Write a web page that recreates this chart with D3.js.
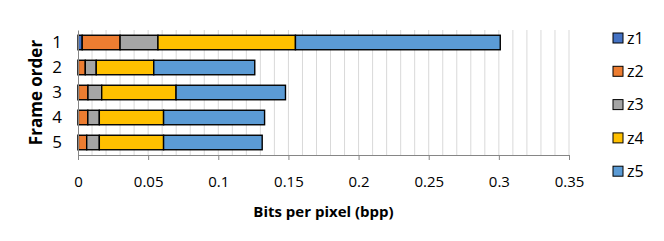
<!DOCTYPE html>
<html>
<head>
<meta charset="utf-8">
<script src="https://cdn.jsdelivr.net/npm/d3@7"></script>
<style>
  body { margin: 0; background: #fff; }
  text { font-family: "Open Sans", "Noto Sans", sans-serif; }
</style>
</head>
<body>
<div id="chart"></div>
<script>
// Frame order categories
const frames = ["1", "2", "3", "4", "5"];
const seriesNames = ["z1", "z2", "z3", "z4", "z5"];

// bits per pixel, one array per series (frame 1..5)
const z1 = [0.003, 0.0003, 0.0003, 0.0003, 0.0003];
const z2 = [0.027, 0.0049, 0.0068, 0.0067, 0.0059];
const z3 = [0.027, 0.0078, 0.0098, 0.0082, 0.009];
const z4 = [0.098, 0.041, 0.053, 0.0458, 0.0458];
const z5 = [0.146, 0.072, 0.078, 0.072, 0.0703];

const xTicks = [0, 0.05, 0.1, 0.15, 0.2, 0.25, 0.3, 0.35];
const colors = ["#4472C4", "#ED7D31", "#A5A5A5", "#FFC000", "#5B9BD5"];

const w = 664, h = 241;
const margin = { left: 78, right: 95, top: 30, bottom: 86 };

// build table rows for the stack
const table = frames.map((f, i) => ({
  frame: f, z1: z1[i], z2: z2[i], z3: z3[i], z4: z4[i], z5: z5[i]
}));
const stacked = d3.stack().keys(seriesNames)(table);

const svg = d3.select("#chart").append("svg")
  .attr("width", w).attr("height", h);

const x = d3.scaleLinear().domain([0, 0.35])
  .range([margin.left, w - margin.right]);
const y = d3.scaleBand().domain(frames)
  .range([margin.top, h - margin.bottom])
  .paddingInner(0.42).paddingOuter(0.21);

// vertical gridlines every 0.01
svg.append("g")
  .selectAll("line")
  .data(d3.range(1, 36).map(d => d / 100))
  .enter().append("line")
  .attr("x1", d => x(d)).attr("x2", d => x(d))
  .attr("y1", margin.top).attr("y2", h - margin.bottom)
  .attr("stroke", "#d9d9d9").attr("stroke-width", 1);

// bars
svg.append("g")
  .selectAll("g")
  .data(stacked)
  .enter().append("g")
  .attr("fill", (d, i) => colors[i])
  .selectAll("rect")
  .data(d => d)
  .enter().append("rect")
  .attr("x", d => x(d[0]))
  .attr("y", d => y(d.data.frame))
  .attr("width", d => x(d[1]) - x(d[0]))
  .attr("height", y.bandwidth())
  .attr("stroke", "#000").attr("stroke-width", 1.4);

// x axis
const xAxis = svg.append("g")
  .attr("transform", `translate(0,${h - margin.bottom})`)
  .call(d3.axisBottom(x).tickValues(xTicks).tickFormat(d3.format("")).tickSize(5).tickPadding(16));
xAxis.select(".domain").attr("stroke", "#868686");
xAxis.selectAll(".tick line").attr("stroke", "#868686");
xAxis.selectAll("text").attr("font-size", 15).attr("fill", "#000")
  .attr("font-family", "'Open Sans', sans-serif");

// y axis
const yAxis = svg.append("g")
  .attr("transform", `translate(${margin.left},0)`)
  .call(d3.axisLeft(y).tickSize(0).tickPadding(16));
yAxis.select(".domain").attr("stroke", "#868686");
yAxis.selectAll("text").attr("font-size", 17).attr("fill", "#000")
  .attr("font-family", "'Open Sans', sans-serif");

// axis titles
svg.append("text")
  .attr("x", x(0.175)).attr("y", 217)
  .attr("text-anchor", "middle")
  .attr("font-size", 15).attr("font-weight", "bold")
  .text("Bits per pixel (bpp)");

svg.append("text")
  .attr("transform", `translate(42,${(margin.top + h - margin.bottom) / 2}) rotate(-90)`)
  .attr("text-anchor", "middle")
  .attr("font-size", 17).attr("font-weight", "bold")
  .text("Frame order");

// legend
const legend = svg.append("g")
  .selectAll("g")
  .data(seriesNames)
  .enter().append("g")
  .attr("transform", (d, i) => `translate(613,${38 + i * 33.3})`);
legend.append("rect")
  .attr("x", 0).attr("y", -5)
  .attr("width", 10).attr("height", 10)
  .attr("fill", (d, i) => colors[i])
  .attr("stroke", "#000").attr("stroke-width", 1);
legend.append("text")
  .attr("x", 14).attr("y", 0).attr("dy", "0.35em")
  .attr("font-size", 16)
  .text(d => d);
</script>
</body>
</html>
